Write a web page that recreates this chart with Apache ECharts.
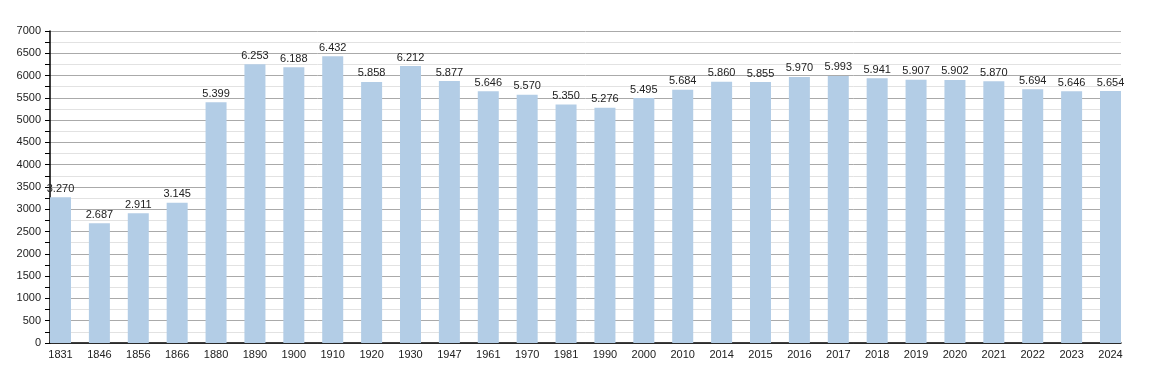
<!DOCTYPE html>
<html><head><meta charset="utf-8">
<script src="https://cdn.jsdelivr.net/npm/echarts@6/dist/echarts.min.js"></script>
<style>html,body{margin:0;padding:0;background:#fff}#c{width:1150px;height:373px}</style>
</head><body><div id="c"></div>
<script>
const years = ['1831','1846','1856','1866','1880','1890','1900','1910','1920','1930','1947','1961','1970','1981','1990','2000','2010','2014','2015','2016','2017','2018','2019','2020','2021','2022','2023','2024'];
const population = [3270,2687,2911,3145,5399,6253,6188,6432,5858,6212,5877,5646,5570,5350,5276,5495,5684,5860,5855,5970,5993,5941,5907,5902,5870,5694,5646,5654];
const yTicks = [0,500,1000,1500,2000,2500,3000,3500,4000,4500,5000,5500,6000,6500,7000];

const font = 'Liberation Sans, Arial, sans-serif';
const chart = echarts.init(document.getElementById('c'));
chart.setOption({
  animation: false,
  grid: [
    {left: 50, right: 29, top: 31, bottom: 30},
    {left: 60.5, right: 39.5, top: 31, bottom: 30}
  ],
  xAxis: [
    {gridIndex: 0, type: 'category', data: years, boundaryGap: true,
     axisLine: {lineStyle: {color: '#000', width: 1.5}}, axisTick: {show: false}, axisLabel: {show: false}, splitLine: {show: false}},
    {gridIndex: 1, type: 'category', data: years, boundaryGap: false,
     axisLine: {show: false}, axisTick: {show: false},
     axisLabel: {color: '#222', fontSize: 11, fontFamily: font, margin: 6, interval: 0}}
  ],
  yAxis: [
    {gridIndex: 0, type: 'value', min: yTicks[0], max: yTicks[yTicks.length-1], interval: 500,
     axisLine: {show: true, lineStyle: {color: '#000', width: 1.5}},
     axisTick: {show: true, length: 5, lineStyle: {color: '#000'}},
     minorTick: {show: true, splitNumber: 2, length: 5, lineStyle: {color: '#000'}},
     splitLine: {show: true, lineStyle: {color: '#aaa', width: 1}},
     minorSplitLine: {show: true, lineStyle: {color: '#e2e2e2', width: 1}},
     axisLabel: {color: '#222', fontSize: 11, fontFamily: font, margin: 9, formatter: v => String(v)}},
    {gridIndex: 1, type: 'value', min: yTicks[0], max: yTicks[yTicks.length-1], interval: 500, show: false}
  ],
  series: [{
    type: 'bar', xAxisIndex: 1, yAxisIndex: 1, data: population, barWidth: 21,
    itemStyle: {color: '#b3cde6'},
    label: {show: true, position: 'top', distance: 3, color: '#222', fontSize: 11, fontFamily: font,
      formatter: p => { const v = p.value; return Math.floor(v/1000) + '.' + String(v%1000).padStart(3,'0'); }}
  }]
});
</script></body></html>
